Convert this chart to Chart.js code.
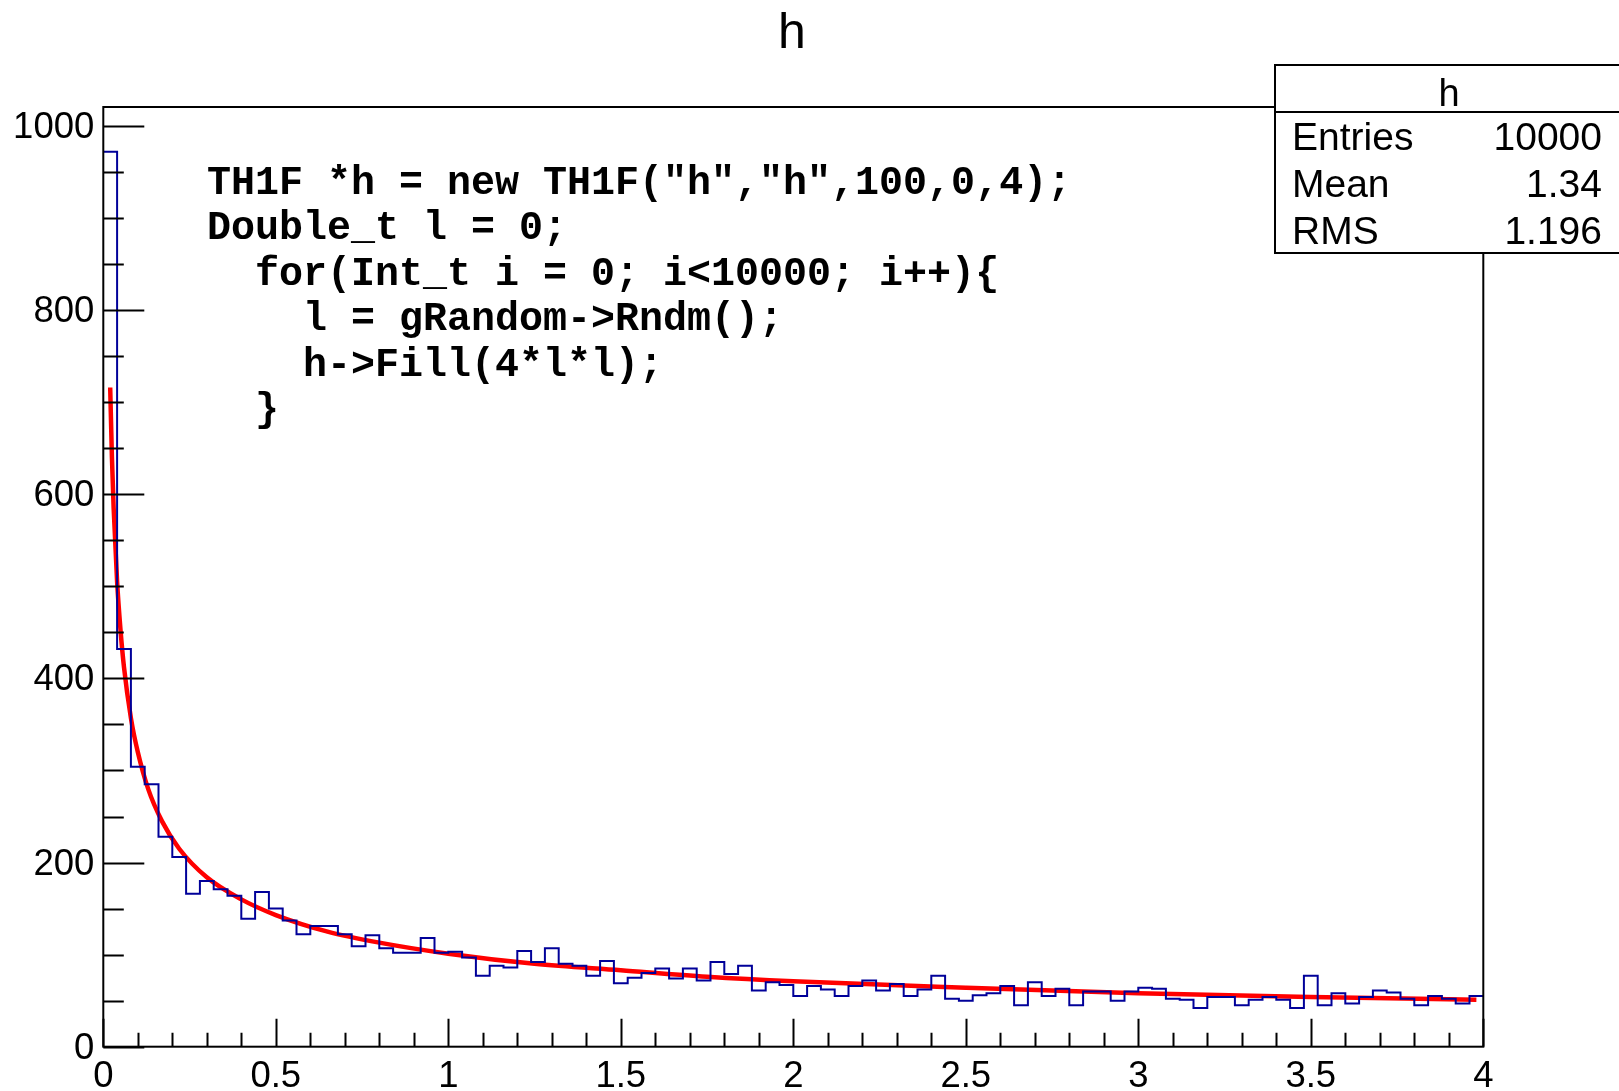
<!DOCTYPE html>
<html>
<head>
<meta charset="utf-8">
<title>h</title>
<script src="https://cdn.jsdelivr.net/npm/chart.js@4.4.1/dist/chart.umd.min.js"></script>
<style>
  html, body { margin: 0; padding: 0; background: #fff; }
  canvas { display: block; }
</style>
</head>
<body>
<canvas id="histo" width="1619" height="1091"></canvas>
<script>
// histogram h: 100 bins from 0 to 4
const xMin = 0;
const xMax = 4;
const binCounts = [
  972, 432, 304, 285, 228, 206, 166, 180, 171, 164,
  139, 168, 150, 137, 122, 131, 131, 122, 109, 121,
  107, 102, 102, 118, 102, 103, 97, 77, 88, 86,
  104, 92, 107, 90, 88, 77, 93, 69, 75, 80,
  85, 74, 85, 72, 92, 79, 88, 61, 70, 67,
  55, 66, 62, 55, 66, 72, 61, 68, 55, 62,
  77, 52, 50, 56, 58, 66, 45, 70, 55, 63,
  45, 60, 60, 50, 60, 64, 63, 52, 51, 42,
  54, 54, 45, 51, 54, 51, 42, 77, 45, 58,
  47, 54, 61, 59, 52, 45, 55, 52, 47, 55
];

// red fit curve
const fitX = [0.02, 0.025, 0.03, 0.04, 0.05, 0.06, 0.08, 0.1, 0.13, 0.17, 0.22, 0.3, 0.4, 0.5, 0.65, 0.8, 1.0, 1.25, 1.5, 1.75, 2.0, 2.5, 3.0, 3.5, 3.98];
const fitY = [716, 640, 585, 505, 452, 412, 357, 320, 280, 245, 215, 184, 160, 143, 125, 113, 101, 90, 83, 76, 71, 64, 58, 54, 51];

const yTickLabels = ['0', '200', '400', '600', '800', '1000'];
const xTickLabels = ['0', '0.5', '1', '1.5', '2', '2.5', '3', '3.5', '4'];

const statsTitle = 'h';
const statsLabels = ['Entries', 'Mean', 'RMS'];
const statsValues = ['10000', '1.34', '1.196'];

const codeLines = [
  'TH1F *h = new TH1F("h","h",100,0,4);',
  'Double_t l = 0;',
  '  for(Int_t i = 0; i<10000; i++){',
  '    l = gRandom->Rndm();',
  '    h->Fill(4*l*l);',
  '  }'
];

const plotTitle = 'h';

// outline points at the bin edges
const binWidth = (xMax - xMin) / binCounts.length;
const histPoints = binCounts.map((c, i) => ({ x: xMin + i * binWidth, y: c }));
histPoints.push({ x: xMax, y: binCounts[binCounts.length - 1] });

const fitPoints = fitX.map((x, i) => ({ x: x, y: fitY[i] }));

const sansFont = '"Liberation Sans", Arial, Helvetica, sans-serif';
const monoFont = '"Liberation Mono", "Courier New", monospace';

const rootFrame = {
  id: 'rootFrame',
  afterDraw(chart) {
    const ctx = chart.ctx;
    const area = chart.chartArea;
    const xs = chart.scales.x;
    const ys = chart.scales.y;

    ctx.save();
    ctx.strokeStyle = '#000';
    ctx.fillStyle = '#000';
    ctx.lineWidth = 2;

    // frame
    ctx.strokeRect(area.left, area.top, area.right - area.left, area.bottom - area.top);

    // y ticks, inside the frame
    ctx.beginPath();
    for (let v = 0; v <= 1000; v += 50) {
      const y = Math.round(ys.getPixelForValue(v)) + 0.5;
      const len = (v % 200 === 0) ? 41 : 20.5;
      ctx.moveTo(area.left, y);
      ctx.lineTo(area.left + len, y);
    }
    // x ticks
    for (let i = 0; i <= 40; i++) {
      const x = Math.round(xs.getPixelForValue(i * 0.1)) + 0.5;
      const len = (i % 5 === 0) ? 28 : 14;
      ctx.moveTo(x, area.bottom);
      ctx.lineTo(x, area.bottom - len);
    }
    ctx.stroke();

    // tick labels
    ctx.font = '36.5px ' + sansFont;
    ctx.textAlign = 'right';
    ctx.textBaseline = 'middle';
    yTickLabels.forEach(lab => {
      ctx.fillText(lab, area.left - 9, ys.getPixelForValue(Number(lab)) + 2);
    });
    ctx.textAlign = 'center';
    ctx.textBaseline = 'alphabetic';
    xTickLabels.forEach(lab => {
      ctx.fillText(lab, xs.getPixelForValue(Number(lab)), 1087);
    });

    // stats box
    const bx = 1275, by = 65, bw = 360, bh = 188;
    ctx.fillStyle = '#fff';
    ctx.fillRect(bx, by, bw, bh);
    ctx.strokeRect(bx, by, bw, bh);
    ctx.beginPath();
    ctx.moveTo(bx, 112);
    ctx.lineTo(bx + bw, 112);
    ctx.stroke();
    ctx.fillStyle = '#000';
    ctx.font = '38px ' + sansFont;
    ctx.textAlign = 'center';
    ctx.fillText(statsTitle, 1449, 106);
    ctx.font = '39px ' + sansFont;
    const rowBase = [150, 197, 244];
    statsLabels.forEach((lab, i) => {
      ctx.textAlign = 'left';
      ctx.fillText(lab, 1292, rowBase[i]);
      ctx.textAlign = 'right';
      ctx.fillText(statsValues[i], 1602, rowBase[i]);
    });

    // code snippet
    ctx.font = 'bold 40px ' + monoFont;
    ctx.textAlign = 'left';
    codeLines.forEach((line, i) => {
      ctx.fillText(line, 207, 194 + i * 45.4);
    });

    // title
    ctx.font = '50px ' + sansFont;
    ctx.textAlign = 'center';
    ctx.fillText(plotTitle, 792, 48);

    ctx.restore();
  }
};

const ctx = document.getElementById('histo').getContext('2d');

const histChart = new Chart(ctx, {
  type: 'line',
  data: {
    datasets: [
      {
        label: 'h',
        data: histPoints,
        stepped: 'before',
        borderColor: '#000099',
        borderWidth: 2,
        pointRadius: 0,
        fill: false
      },
      {
        label: 'fit',
        data: fitPoints,
        borderColor: '#ff0000',
        borderWidth: 4.5,
        pointRadius: 0,
        fill: false,
        cubicInterpolationMode: 'monotone'
      }
    ]
  },
  options: {
    responsive: false,
    animation: false,
    layout: {
      padding: { left: 103.3, right: 135.7, top: 107, bottom: 44.3 }
    },
    scales: {
      x: { type: 'linear', min: xMin, max: xMax, display: false },
      y: { type: 'linear', min: 0, max: 1020.6, display: false }
    },
    plugins: {
      legend: { display: false },
      tooltip: { enabled: false }
    }
  },
  plugins: [rootFrame]
});
</script>
</body>
</html>
